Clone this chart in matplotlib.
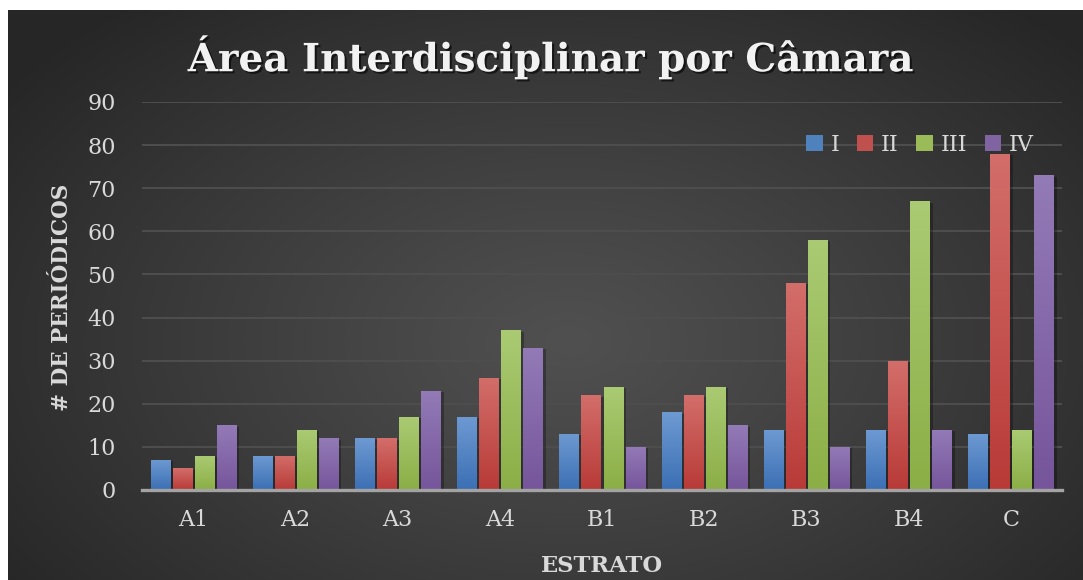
import numpy as np
import matplotlib
matplotlib.use("Agg")
import matplotlib.pyplot as plt
from matplotlib import patheffects as pe
from matplotlib.patches import Rectangle
from matplotlib.colors import LinearSegmentedColormap

categories = ['A1', 'A2', 'A3', 'A4', 'B1', 'B2', 'B3', 'B4', 'C']
series_names = ['I', 'II', 'III', 'IV']
vals_I = [7, 8, 12, 17, 13, 18, 14, 14, 13]
vals_II = [5, 8, 12, 26, 22, 22, 48, 30, 78]
vals_III = [8, 14, 17, 37, 24, 24, 58, 67, 14]
vals_IV = [15, 12, 23, 33, 10, 15, 10, 14, 73]
yticks = [0, 10, 20, 30, 40, 50, 60, 70, 80, 90]
title = 'Área Interdisciplinar por Câmara'
xlabel = 'ESTRATO'
ylabel = '# DE PERIÓDICOS'

series = [vals_I, vals_II, vals_III, vals_IV]
base_colors = ['#4f81bd', '#c0504d', '#9bbb59', '#8064a2']
top_colors = ['#6e9ad2', '#d36e6a', '#aacb73', '#937bb7']
bot_colors = ['#3b6fb4', '#b83a37', '#8cae46', '#76559b']

W, H = 1083, 580
fig = plt.figure(figsize=(W / 100, H / 100), dpi=100)
fig.patch.set_facecolor('white')

# background radial gradient
bg = fig.add_axes([8 / W, 0, (W - 8) / W, (H - 10) / H])
bw, bh = W - 8, H - 10
yy, xx = np.mgrid[0:bh, 0:bw]
cx, cy = 560, 330
r = np.sqrt(((xx - cx) / 700.0) ** 2 + ((yy - cy) / 440.0) ** 2)
r = np.clip(r, 0, 1)
v = (0x50 - (0x50 - 0x26) * r ** 1.1) / 255.0
rgb = np.dstack([v, v, v])
bg.imshow(rgb, aspect='auto', interpolation='bilinear')
bg.set_axis_off()

ax = fig.add_axes([142 / W, 90 / H, 920 / W, 388 / H])
ax.set_facecolor('none')
n = len(categories)
x = np.arange(n)
step = 22 / 102.2
width = 19 / 102.2

for i, vals in enumerate(series):
    bars = ax.bar(x + (i - 1.5) * step, vals, width, color=base_colors[i], zorder=3,
                  label=series_names[i])
    cmap = LinearSegmentedColormap.from_list('g%d' % i, [bot_colors[i], top_colors[i]])
    grad = np.linspace(0, 1, 256).reshape(-1, 1)
    for b in bars:
        b.set_path_effects([pe.SimplePatchShadow(offset=(2.5, -1.0), shadow_rgbFace='black', alpha=0.28),
                            pe.Normal()])
        x0, w_, h_ = b.get_x(), b.get_width(), b.get_height()
        im = ax.imshow(grad, extent=[x0, x0 + w_, 0, h_], origin='lower', cmap=cmap,
                       aspect='auto', zorder=4)
        im.set_clip_path(b)

ax.set_xlim(-0.5, n - 0.5)
ax.set_ylim(0, 90)
ax.set_yticks(yticks)
ax.set_xticks(x)
ax.set_xticklabels(categories)
for s in ['top', 'right', 'left']:
    ax.spines[s].set_visible(False)
ax.spines['bottom'].set_color('#a3a3a3')
ax.spines['bottom'].set_linewidth(2.4)
ax.spines['bottom'].set_zorder(6)
ax.yaxis.grid(True, color='#4e4e4e', linewidth=1.4, zorder=1)
ax.set_axisbelow(True)
ax.tick_params(axis='both', length=0, colors='#d9d9d9', labelsize=16)
ax.tick_params(axis='y', pad=19)
ax.tick_params(axis='x', pad=14)
for lab in ax.get_xticklabels() + ax.get_yticklabels():
    lab.set_family('DejaVu Serif')

fig.text(62 / W, 1 - 297 / H, ylabel, rotation=90, ha='center', va='center',
         family='DejaVu Serif', fontweight='bold', fontsize=15.5, color='#d9d9d9')
fig.text(602 / W, 1 - 566 / H, xlabel, ha='center', va='center',
         family='DejaVu Serif', fontweight='bold', fontsize=16.3, color='#d9d9d9')
fig.text(551 / W, 1 - 57 / H, title, ha='center', va='center',
         family='DejaVu Serif', fontweight='bold', fontsize=28, color='#f2f2f2',
         path_effects=[pe.SimplePatchShadow(offset=(1.5, -1.5), shadow_rgbFace='black', alpha=0.6),
                       pe.Normal()])

handles = [Rectangle((0, 0), 1, 1, facecolor=c) for c in base_colors]
leg = fig.legend(handles, series_names, loc='center right',
                 bbox_to_anchor=(1034 / W, 1 - 145 / H), ncol=4, frameon=False,
                 prop={'family': 'DejaVu Serif', 'size': 16}, labelcolor='#d9d9d9',
                 handlelength=0.75, handleheight=0.75, handletextpad=0.35,
                 columnspacing=0.78, borderpad=0, borderaxespad=0)

fig.savefig('out.png', dpi=100, facecolor='white')
